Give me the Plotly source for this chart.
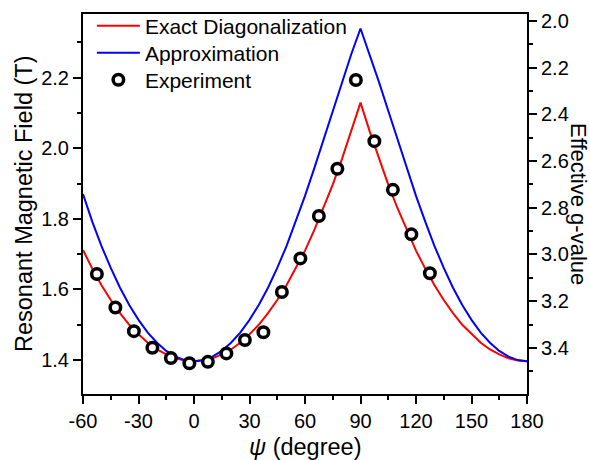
import plotly.graph_objects as go

# Rotation angle grid for the calculated curves (degree)
psi_curve = [-60, -55, -50, -45, -40, -35, -30, -25, -20, -15, -10, -5,
             0, 5, 10, 15, 20, 25, 30, 35, 40, 45, 50, 55,
             60, 65, 70, 75, 80, 85, 90, 95, 100, 105, 110, 115,
             120, 125, 130, 135, 140, 145, 150, 155, 160, 165, 170, 175, 180]

# Resonant field from exact diagonalization (T)
field_exact = [1.712, 1.659, 1.612, 1.570, 1.533, 1.500, 1.473, 1.449, 1.430, 1.416, 1.405, 1.399,
               1.397, 1.399, 1.405, 1.416, 1.430, 1.449, 1.473, 1.500, 1.533, 1.570, 1.612, 1.659,
               1.710, 1.768, 1.830, 1.897, 1.970, 2.047, 2.129, 2.047, 1.970, 1.897, 1.830, 1.768,
               1.710, 1.659, 1.612, 1.570, 1.533, 1.500, 1.473, 1.449, 1.430, 1.416, 1.405, 1.399, 1.397]

# Resonant field from the approximate model (T)
field_approx = [1.870, 1.792, 1.723, 1.661, 1.605, 1.556, 1.514, 1.478, 1.449, 1.426, 1.410, 1.400,
                1.397, 1.400, 1.410, 1.426, 1.449, 1.478, 1.514, 1.556, 1.605, 1.661, 1.723, 1.792,
                1.865, 1.943, 2.024, 2.106, 2.187, 2.266, 2.339, 2.266, 2.187, 2.106, 2.024, 1.943,
                1.865, 1.792, 1.723, 1.661, 1.605, 1.556, 1.514, 1.478, 1.449, 1.426, 1.410, 1.400, 1.397]

# Measured resonance positions
psi_exp = [-52.5, -42.5, -32.5, -22.5, -12.5, -2.5, 7.5, 17.5, 27.5, 37.5,
           47.5, 57.5, 67.5, 77.5, 87.5, 97.5, 107.5, 117.5, 127.5]
field_exp = [1.644, 1.549, 1.482, 1.435, 1.406, 1.391, 1.395, 1.419, 1.457, 1.479,
             1.593, 1.688, 1.808, 1.942, 2.193, 2.020, 1.882, 1.756, 1.646]

x_ticks = [-60, -30, 0, 30, 60, 90, 120, 150, 180]
x_ticktext = ["-60", "-30", "0", "30", "60", "90", "120", "150", "180"]
b_ticks = [1.4, 1.6, 1.8, 2.0, 2.2]
g_ticks = [2.0, 2.2, 2.4, 2.6, 2.8, 3.0, 3.2, 3.4]

FONT = "Liberation Sans, Arial, sans-serif"

fig = go.Figure()
fig.add_trace(go.Scatter(x=psi_curve, y=field_exact, mode="lines", name="Exact Diagonalization",
                         line=dict(color="#FF0000", width=2), legend="legend"))
fig.add_trace(go.Scatter(x=psi_curve, y=field_approx, mode="lines", name="Approximation",
                         line=dict(color="#0000FF", width=2), legend="legend2"))
fig.add_trace(go.Scatter(x=psi_exp, y=field_exp, mode="markers", name="Experiment",
                         marker=dict(symbol="circle", size=10.5, color="white",
                                     line=dict(color="black", width=3.5)),
                         legend="legend3"))
# empty trace that activates the g-value axis on the right
fig.add_trace(go.Scatter(x=[], y=[], yaxis="y2", showlegend=False, hoverinfo="skip"))

axis_common = dict(
    showgrid=False, zeroline=False, showline=True, linecolor="black", linewidth=2,
    ticks="outside", ticklen=8, tickwidth=2, tickcolor="black", automargin=False,
    tickfont=dict(family=FONT, size=20, color="black"),
)

legend_common = dict(xanchor="left", yanchor="middle", bgcolor="rgba(0,0,0,0)",
                     font=dict(family=FONT, size=21, color="black"), itemwidth=43)

fig.update_layout(
    width=590, height=460,
    margin=dict(l=83, r=63, t=14, b=66, autoexpand=False),
    paper_bgcolor="white", plot_bgcolor="white",
    font=dict(family=FONT, color="black"),
    xaxis=dict(range=[-60, 180], tickvals=x_ticks, ticktext=x_ticktext, mirror=True,
               minor=dict(dtick=15, ticklen=4, tickwidth=2, tickcolor="black", ticks="outside"),
               **axis_common),
    yaxis=dict(range=[1.304, 2.38], tickvals=b_ticks, tickformat=".1f",
               minor=dict(dtick=0.1, tick0=1.3, ticklen=4, tickwidth=2, tickcolor="black", ticks="outside"),
               **axis_common),
    yaxis2=dict(overlaying="y", side="right", range=[3.597, 1.971], tickvals=g_ticks, tickformat=".1f",
                minor=dict(dtick=0.1, tick0=1.9, ticklen=4, tickwidth=2, tickcolor="black", ticks="outside"),
                **axis_common),
    legend=dict(x=0.02, y=0.968, **legend_common),
    legend2=dict(x=0.02, y=0.897, **legend_common),
    legend3=dict(x=0.02, y=0.826, **legend_common),
    showlegend=True,
    annotations=[
        dict(text="<i>ψ</i> (degree)", xref="paper", yref="paper", x=0.5, y=-0.1395,
             xanchor="center", yanchor="middle", showarrow=False,
             font=dict(family=FONT, size=23.5, color="black")),
        dict(text="Resonant Magnetic Field (T)", xref="paper", yref="paper", x=-0.1329, y=0.5,
             xanchor="center", yanchor="middle", textangle=-90, showarrow=False,
             font=dict(family=FONT, size=23.5, color="black")),
        dict(text="Effective g-value", xref="paper", yref="paper", x=(579 - 83) / 444, y=0.5,
             xanchor="center", yanchor="middle", textangle=90, showarrow=False,
             font=dict(family=FONT, size=22, color="black")),
    ],
)

fig.write_html("out.html")
